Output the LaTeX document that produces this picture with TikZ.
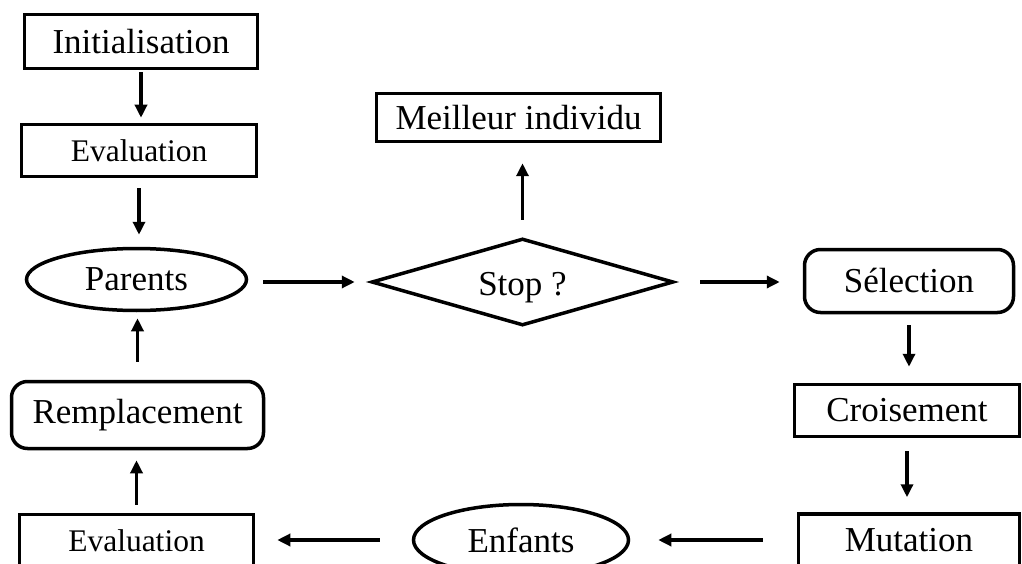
\documentclass[tikz,border=0pt]{standalone}
\usepackage{fontspec}
\setmainfont{Liberation Serif}
\usetikzlibrary{shapes.geometric,arrows.meta,calc}

\begin{document}
\begin{tikzpicture}[x=1pt,y=-1pt,
    box/.style={draw, line width=3.5pt, rectangle, inner sep=0pt, font=\fontsize{35}{40}\selectfont},
    rbox/.style={box, rounded corners=16pt},
    oval/.style={box, ellipse},
    test/.style={box, diamond, aspect=3.4},
    small/.style={font=\fontsize{31.5}{36}\selectfont},
    arr/.style={line width=3.5pt, -{Triangle[length=13pt,width=12pt]}}]
  \useasboundingbox (0,0) rectangle (1022,564);
  \clip (0,0) rectangle (1022,564);

  % left column
  \node[box, minimum width=233pt, minimum height=54pt] (init) at (141,41.5) {Initialisation};
  \node[box, small, minimum width=235pt, minimum height=52pt] (eval1) at (139,150.5) {Evaluation};
  \node[oval, minimum width=220pt, minimum height=62pt] (parents) at (136.5,279.5) {Parents};
  \node[rbox, minimum width=252pt, minimum height=67pt] (rempl) at (137.5,415) {Remplacement};
  \node[box, small, minimum width=234pt, minimum height=52pt] (eval2) at (136.5,540.5) {Evaluation};

  % middle
  \node[box, minimum width=284pt, minimum height=48pt] (best) at (518.5,117.5) {Meilleur individu};
  \node[test, minimum width=302pt, minimum height=87pt] (stop) at (522.5,282) {\raisebox{-6pt}[\height][\depth]{Stop ?}};
  \node[oval, minimum width=215pt, minimum height=71pt] (enfants) at (521,540) {Enfants};

  % right column
  \node[rbox, minimum width=209pt, minimum height=63pt] (sel) at (909,281) {Sélection};
  \node[box, minimum width=225pt, minimum height=52pt] (crois) at (907,410.5) {Croisement};
  \node[box, minimum width=221pt, minimum height=52pt] (mut) at (909,540) {Mutation};

  % arrows
  \draw[arr, shorten <=2pt, shorten >=5pt] (init.south) -- (init.south |- eval1.north);
  \draw[arr, shorten <=10pt, shorten >=12pt] (eval1.south) -- (eval1.south |- parents.north);
  \draw[arr, shorten <=15pt, shorten >=15pt] (stop.west -| parents.east) -- (stop.west);
  \draw[arr, shorten <=17pt, shorten >=20pt] (stop.north) -- (stop.north |- best.south);
  \draw[arr, shorten <=25pt, shorten >=23pt] (stop.east) -- (stop.east -| sel.west);
  \draw[arr, xshift=4pt, shorten <=11pt, shorten >=16pt] (sel.south) -- (sel.south |- crois.north);
  \draw[arr, xshift=10pt, shorten <=13pt, shorten >=15pt] (crois.south) -- (crois.south |- mut.north);
  \draw[arr, shorten <=34pt, shorten >=28pt] (mut.west) -- (mut.west -| enfants.east);
  \draw[arr, shorten <=32pt, shorten >=22pt] (enfants.west) -- (enfants.west -| eval2.east);
  \draw[arr, shorten <=8pt, shorten >=10pt] (eval2.north) -- (eval2.north |- rempl.south);
  \draw[arr, shorten <=18pt, shorten >=6pt] (rempl.north) -- (rempl.north |- parents.south);
\end{tikzpicture}
\end{document}
